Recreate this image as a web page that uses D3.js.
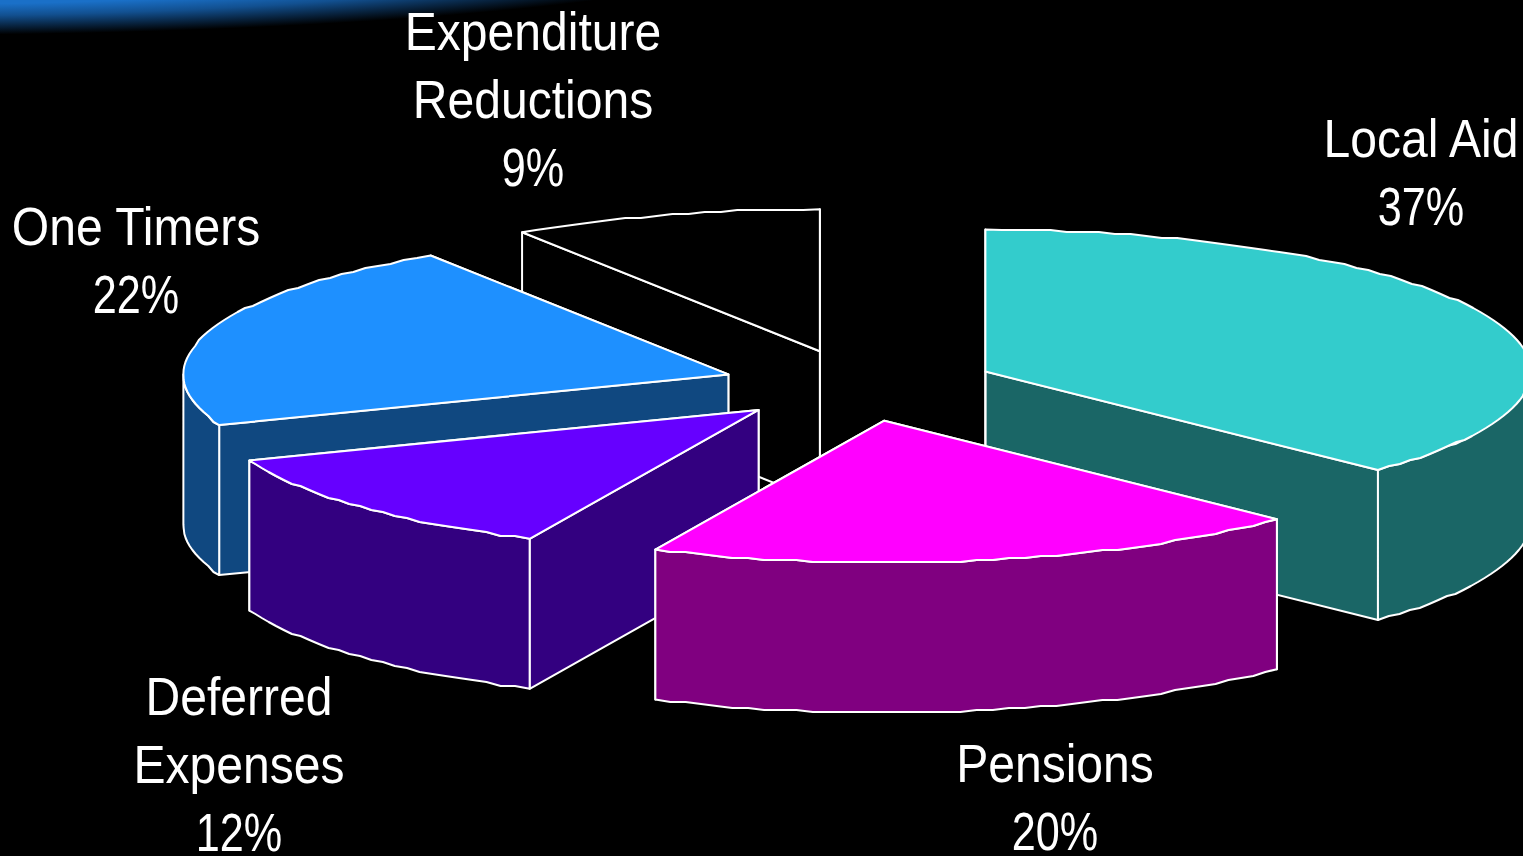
<!DOCTYPE html>
<html>
<head>
<meta charset="utf-8">
<script src="https://cdn.jsdelivr.net/npm/d3@7"></script>
<style>
  html, body { margin: 0; background: #000; overflow: hidden; }
  svg { display: block; }
  text { font-family: "Liberation Sans", sans-serif; font-size: 54px; fill: #fff; text-anchor: middle; }
</style>
</head>
<body>
<script>
// slice order starts at 12 o'clock and goes clockwise
const categories = ["Local Aid", "Pensions", "Deferred Expenses", "One Timers", "Expenditure Reductions"];
// shares read from the slice edges, they round to the printed percentages
const shares = [37.2, 19.7, 12.3, 21.6, 9.2];
const topColors = ["#33cccc", "#ff00ff", "#6600ff", "#1e90ff", "#000000"];
const sideColors = ["#1a6666", "#800080", "#330080", "#104880", "#000000"];
const labelLines = [["Local Aid"], ["Pensions"], ["Deferred", "Expenses"], ["One Timers"], ["Expenditure", "Reductions"]];
const labelAnchors = [[1421, 157], [1055, 782], [239, 715], [136, 245], [533, 50]];
// back to front
const drawOrder = [4, 3, 2, 0, 1];

const WIDTH = 1523;
const HEIGHT = 856;
const DEPTH = 150;
const EXPLODE = 0.252;
const LINE_HEIGHT = 68;
// no narrow font here, so squeeze the sans
const TEXT_SQUEEZE = 0.89;
const PERCENT_SQUEEZE = 0.8;
const RIM_STEP = 2; // the original rim is a rough stepped outline
const FRONT = [Math.PI / 2, Math.PI * 1.5];

// unit circle to the tilted plane of the pie
const xScale = d3.scaleLinear().domain([-1, 1]).range([859 - 545, 859 + 545]);
const yScale = d3.scaleLinear().domain([-1, 1]).range([385.5 - 142, 385.5 + 142]);

const svg = d3.select("body").append("svg").attr("width", WIDTH).attr("height", HEIGHT);

// blue glow in the top left corner
const glow = svg.append("defs").append("radialGradient").attr("id", "glow");
glow.append("stop").attr("offset", "0.68").attr("stop-color", "#1a70c8");
glow.append("stop").attr("offset", "0.8").attr("stop-color", "#125090");
glow.append("stop").attr("offset", "1").attr("stop-color", "#000");
svg.append("ellipse")
  .attr("cx", -100)
  .attr("cy", -60)
  .attr("rx", 900)
  .attr("ry", 95)
  .attr("fill", "url(#glow)");

const arcs = d3.pie().sort(null).value(d => d)(shares);

function point(angle, offset, drop, scale) {
  return [
    xScale(Math.sin(offset) * EXPLODE + Math.sin(angle) * scale),
    yScale(-Math.cos(offset) * EXPLODE - Math.cos(angle) * scale) + drop,
  ];
}

// ends stay exact so the walls still meet the cut faces
function rimPoints(a0, a1, mid, drop) {
  const n = Math.max(4, Math.round((a1 - a0) / 0.03));
  return d3.range(n + 1).map(k => {
    const p = point(a0 + ((a1 - a0) * k) / n, mid, drop, 1);
    if (k === 0 || k === n) return p;
    return [p[0], Math.round(p[1] / RIM_STEP) * RIM_STEP];
  });
}

const toPath = pts => "M" + pts.map(p => p.join(",")).join("L") + "Z";

const slices = svg.append("g").attr("stroke", "#fff").attr("stroke-width", 2).attr("stroke-linejoin", "round");

drawOrder.forEach(i => {
  const arc = arcs[i];
  const mid = (arc.startAngle + arc.endAngle) / 2;
  const g = slices.append("g").attr("class", "slice");
  const apex = point(0, mid, 0, 0);
  const apexLow = point(0, mid, DEPTH, 0);

  // the two cut faces
  [arc.endAngle, arc.startAngle].forEach(a => {
    g.append("path")
      .attr("fill", sideColors[i])
      .attr("d", toPath([apex, point(a, mid, 0, 1), point(a, mid, DEPTH, 1), apexLow]));
  });

  // outer wall, only the part that faces the viewer
  const a0 = Math.max(arc.startAngle, FRONT[0]);
  const a1 = Math.min(arc.endAngle, FRONT[1]);
  if (a1 > a0) {
    g.append("path")
      .attr("fill", sideColors[i])
      .attr("d", toPath([...rimPoints(a0, a1, mid, 0), ...rimPoints(a0, a1, mid, DEPTH).reverse()]));
  }

  g.append("path")
    .attr("fill", topColors[i])
    .attr("d", toPath([apex, ...rimPoints(arc.startAngle, arc.endAngle, mid, 0)]));
});

// labels, the percent line sits below the name and is a bit tighter
labelLines.forEach((lines, i) => {
  const [x, y] = labelAnchors[i];
  lines.forEach((line, j) => {
    svg.append("text")
      .attr("class", "label")
      .attr("transform", `translate(${x},${y + j * LINE_HEIGHT}) scale(${TEXT_SQUEEZE},1)`)
      .text(line);
  });
  svg.append("text")
    .attr("class", "percent")
    .attr("transform", `translate(${x},${y + lines.length * LINE_HEIGHT}) scale(${PERCENT_SQUEEZE},1)`)
    .text(d3.format(".0f")(shares[i]) + "%");
});
</script>
</body>
</html>
